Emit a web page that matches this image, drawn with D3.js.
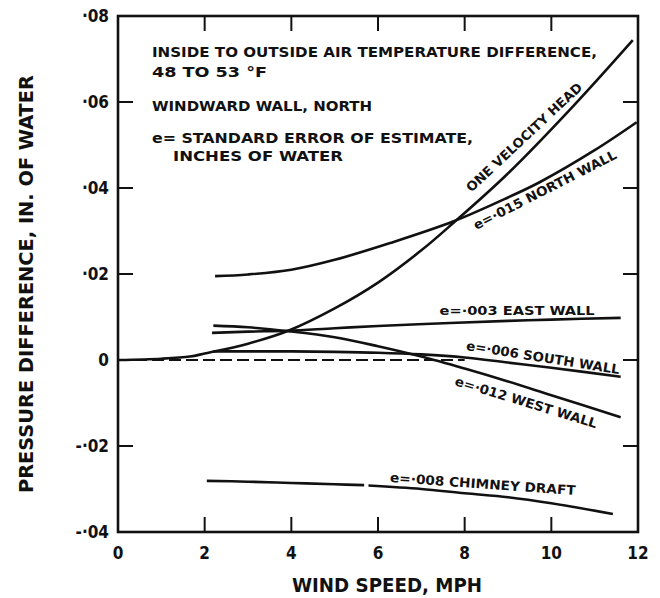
<!DOCTYPE html>
<html>
<head>
<meta charset="utf-8">
<title>Pressure difference vs wind speed</title>
<style>
body { margin: 0; background: #fff; }
text { font-family: 'DejaVu Sans Condensed', 'DejaVu Sans', sans-serif; fill: #111; }
.tick_lbl { font-size: 17px; font-weight: bold; }
.axis_title { font-size: 19px; font-weight: bold; }
.note { font-size: 14px; font-weight: bold; }
.curve_lbl { font-size: 13px; font-weight: bold; }
</style>
<script src="https://d3js.org/d3.v7.min.js"></script>
</head>
<body>
<div id="chart"></div>
<script>

// wind speed (mph) and pressure difference (in. of water)
var wind_velocity_head = [0, 1, 1.66, 2, 3, 3.93, 5, 6, 7, 7.73, 8.98, 10.5, 11.88];
var p_velocity_head    = [0, 0.0003, 0.0008, 0.0015, 0.0038, 0.0068, 0.0120, 0.0180, 0.0255, 0.0318, 0.0432, 0.0590, 0.0744];

var wind_north = [2.24, 3, 4, 5, 6.28, 7.73, 9, 9.74, 11, 11.97];
var p_north    = [0.0195, 0.0199, 0.0210, 0.0233, 0.0272, 0.0322, 0.0378, 0.0414, 0.0488, 0.0553];

var wind_east = [2.17, 3, 3.93, 5, 6, 7.66, 9, 10, 11.6];
var p_east    = [0.0063, 0.0066, 0.0068, 0.0074, 0.0079, 0.0086, 0.0091, 0.0094, 0.0098];

var wind_south = [2.2, 3, 4, 5, 6, 7, 8, 9, 10, 11.6];
var p_south    = [0.0020, 0.0020, 0.0020, 0.0019, 0.0017, 0.0013, 0.0006, -0.0006, -0.0018, -0.0039];

var wind_west = [2.2, 3, 3.93, 5, 6, 7, 8, 9, 10, 11.6];
var p_west    = [0.0080, 0.0076, 0.0067, 0.0053, 0.0032, 0.0008, -0.0020, -0.0050, -0.0082, -0.0133];

// the drafted line has a small break near 5.7 mph
var wind_chimney = [2.05, 3, 4, 5, 5.68, NaN, 5.78, 7, 8, 9, 10, 11.42];
var p_chimney    = [-0.0281, -0.0283, -0.0286, -0.0289, -0.0291, NaN, -0.0292, -0.0300, -0.0310, -0.0319, -0.0333, -0.0358];

var wind_zero = [0, 8];
var p_zero    = [0, 0];

var x_ticks = [0, 2, 4, 6, 8, 10, 12];
var x_tick_labels = ["0", "2", "4", "6", "8", "10", "12"];
var y_ticks = [0.08, 0.06, 0.04, 0.02, 0, -0.02, -0.04];
var y_tick_labels = ["·08", "·06", "·04", "·02", "0", "-·02", "-·04"];

var curve_labels = ["ONE VELOCITY HEAD", "e=·015  NORTH WALL", "e=·003  EAST WALL",
                    "e=·006 SOUTH WALL", "e=·012  WEST WALL", "e=·008  CHIMNEY DRAFT"];

var notes = ["INSIDE TO OUTSIDE AIR TEMPERATURE DIFFERENCE,", "48 TO 53 °F",
             "WINDWARD WALL, NORTH", "e= STANDARD ERROR OF ESTIMATE,", "INCHES OF WATER"];

var zip = function(xs, ys) { return xs.map(function(x, i) { return { w: x, p: ys[i] }; }); };

var width = 660, height = 598;
var margin = { top: 16, right: 22, bottom: 66, left: 118 };

var scale_x = d3.scaleLinear().domain([0, 12]).range([margin.left, width - margin.right]);
var scale_y = d3.scaleLinear().domain([-0.04, 0.08]).range([height - margin.bottom, margin.top]);

var svg = d3.select("#chart").append("svg")
            .attr("width", width)
            .attr("height", height);

svg.append("rect").attr("width", width).attr("height", height).attr("fill", "#fff");

// inward ticks on all four sides
var inner_x = x_ticks.slice(1, -1);
var inner_y = [0.06, 0.04, 0.02, -0.02];
var tick_len = 15;

var ticks = svg.append("g").attr("stroke", "#111").attr("stroke-width", 2);
ticks.selectAll(".tb").data(inner_x).enter().append("line")
     .attr("x1", scale_x).attr("x2", scale_x)
     .attr("y1", scale_y(-0.04)).attr("y2", scale_y(-0.04) - tick_len);
ticks.selectAll(".tt").data(inner_x).enter().append("line")
     .attr("x1", scale_x).attr("x2", scale_x)
     .attr("y1", scale_y(0.08)).attr("y2", scale_y(0.08) + tick_len);
ticks.selectAll(".tl").data(inner_y).enter().append("line")
     .attr("x1", scale_x(0)).attr("x2", scale_x(0) + tick_len)
     .attr("y1", scale_y).attr("y2", scale_y);
ticks.selectAll(".tr").data([0.06, 0.04, 0.02, 0, -0.02]).enter().append("line")
     .attr("x1", scale_x(12)).attr("x2", scale_x(12) - tick_len)
     .attr("y1", scale_y).attr("y2", scale_y);

svg.append("rect")
   .attr("x", scale_x(0)).attr("y", scale_y(0.08))
   .attr("width", scale_x(12) - scale_x(0))
   .attr("height", scale_y(-0.04) - scale_y(0.08))
   .attr("fill", "none").attr("stroke", "#111").attr("stroke-width", 2.6);

// tick labels
svg.selectAll(".xl").data(x_ticks).enter().append("text")
   .attr("class", "tick_lbl")
   .attr("x", scale_x).attr("y", scale_y(-0.04) + 27)
   .attr("text-anchor", "middle")
   .text(function(d, i) { return x_tick_labels[i]; });

svg.selectAll(".yl").data(y_ticks).enter().append("text")
   .attr("class", "tick_lbl")
   .attr("x", scale_x(0) - 9).attr("y", function(d) { return scale_y(d) + 6; })
   .attr("text-anchor", "end")
   .text(function(d, i) { return y_tick_labels[i]; });

// axis titles
svg.append("text").attr("class", "axis_title")
   .attr("x", 292).attr("y", 592)
   .attr("textLength", 190).attr("lengthAdjust", "spacingAndGlyphs")
   .text("WIND SPEED,  MPH");

svg.append("text").attr("class", "axis_title")
   .attr("transform", "translate(33,284) rotate(-90)")
   .attr("text-anchor", "middle")
   .attr("textLength", 418).attr("lengthAdjust", "spacingAndGlyphs")
   .text("PRESSURE  DIFFERENCE,  IN.  OF  WATER");

// curves
var line = d3.line()
             .defined(function(d) { return !isNaN(d.w); })
             .x(function(d) { return scale_x(d.w); })
             .y(function(d) { return scale_y(d.p); })
             .curve(d3.curveCatmullRom.alpha(0.5));

var curves = [zip(wind_velocity_head, p_velocity_head), zip(wind_north, p_north),
              zip(wind_east, p_east), zip(wind_south, p_south),
              zip(wind_west, p_west), zip(wind_chimney, p_chimney)];

svg.selectAll(".curve").data(curves).enter().append("path")
   .attr("d", line)
   .attr("fill", "none").attr("stroke", "#111").attr("stroke-width", 2.6);

svg.append("path")
   .attr("d", line(zip(wind_zero, p_zero)))
   .attr("fill", "none").attr("stroke", "#111").attr("stroke-width", 2)
   .attr("stroke-dasharray", "12,5");

// curve labels: centre in data units, angle, drawn length
var label_place = [
  { w: 9.37, p: 0.0518, rot: -43, len: 153 },
  { w: 9.85, p: 0.0396, rot: -27, len: 159 },
  { w: 9.21, p: 0.0115, rot: 0, len: 155 },
  { w: 9.81, p: 0.0006, rot: 9, len: 155 },
  { w: 9.42, p: -0.0098, rot: 17, len: 148 },
  { w: 8.42, p: -0.0288, rot: 4, len: 186 }
];

svg.selectAll(".clbl").data(label_place).enter().append("text")
   .attr("class", "curve_lbl")
   .attr("transform", function(d) {
     return "translate(" + scale_x(d.w) + "," + scale_y(d.p) + ") rotate(" + d.rot + ")";
   })
   .attr("text-anchor", "middle").attr("dy", "0.36em")
   .attr("textLength", function(d) { return d.len; })
   .attr("lengthAdjust", "spacingAndGlyphs")
   .text(function(d, i) { return curve_labels[i]; });

// notes block
var note_place = [
  { x: 152, y: 57, len: 445 },
  { x: 152, y: 77, len: 115 },
  { x: 152, y: 111, len: 220 },
  { x: 152, y: 143, len: 321 },
  { x: 173, y: 161, len: 170 }
];

svg.selectAll(".note").data(note_place).enter().append("text")
   .attr("class", "note")
   .attr("x", function(d) { return d.x; }).attr("y", function(d) { return d.y; })
   .attr("textLength", function(d) { return d.len; })
   .attr("lengthAdjust", "spacingAndGlyphs")
   .text(function(d, i) { return notes[i]; });

</script>
</body>
</html>
